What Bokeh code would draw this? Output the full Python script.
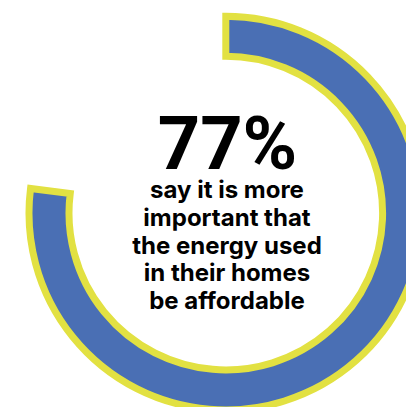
from bokeh.plotting import figure
from bokeh.models import Range1d, ColumnDataSource
from bokeh.core.properties import value
from bokeh.embed import file_html
from bokeh.resources import INLINE
import math

# data
percent = 77
headline = ["77%"]
caption_lines = ["say it is more", "important that", "the energy used", "in their homes", "be affordable"]

BLUE = "#4A6FB4"
YELLOW = "#E2E142"

W, H = 406, 407
p = figure(width=W, height=H, output_backend="svg", toolbar_location=None,
           x_range=Range1d(0, W), y_range=Range1d(-H, 0),
           min_border=0, outline_line_color=None)
p.axis.visible = False
p.grid.visible = False
p.background_fill_color = "white"
p.border_fill_color = "white"

cx, cy = 225.3, -212.6
r_out, r_in = 196.8, 156.8
start = math.pi / 2
end = start - 2 * math.pi * percent / 100.0

src = ColumnDataSource(dict(x=[cx], y=[cy], s=[start], e=[end]))
p.annular_wedge(x="x", y="y", inner_radius=r_in, outer_radius=r_out,
                start_angle="s", end_angle="e", direction="clock", source=src,
                fill_color=BLUE, line_color=YELLOW, line_width=7, line_join="miter",
                inner_radius_units="screen", outer_radius_units="screen")

tx = 227.0
head_size = 74
p.text(x=[tx], y=[-(166.7 - 0.32 * head_size)], text=headline, text_font=value("Roboto"),
       text_font_style="bold", text_font_size=f"{head_size}px", text_align="center",
       text_baseline="alphabetic", text_color="#000000")

cap_size = 24
baselines = [196.5, 224.2, 251.9, 279.6, 307.3]
ys = [-(b - 0.3 * cap_size) for b in baselines]
p.text(x=[226.5] * len(caption_lines), y=ys, text=caption_lines, text_font=value("Inter"),
       text_font_style="bold", text_font_size=f"{cap_size}px", text_align="center",
       text_baseline="alphabetic", text_color="#000000")

open("out.html", "w").write(file_html(p, INLINE))
